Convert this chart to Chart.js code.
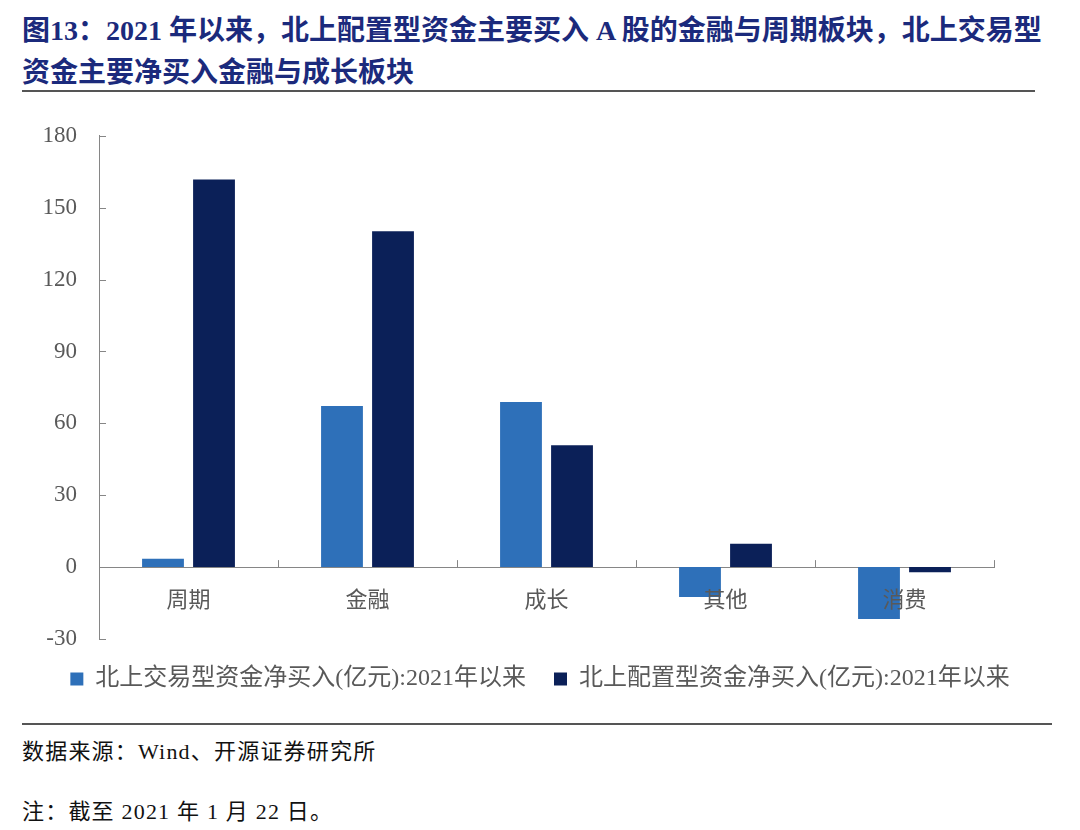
<!DOCTYPE html>
<html>
<head>
<meta charset="utf-8">
<script src="https://cdn.jsdelivr.net/npm/chart.js@4"></script>
<style>
  body { margin: 0; width: 1080px; height: 830px; background: #fff; position: relative; overflow: hidden; }
  .title { position: absolute; left: 22px; top: 10px; width: 1058px; font-family: "Liberation Serif", "Noto Sans CJK SC", serif; font-weight: bold; font-size: 28px; line-height: 42px; color: #1b2a7c; white-space: nowrap; }
  .rule { position: absolute; left: 22px; height: 2px; background: #555; }
  .note { position: absolute; left: 22px; font-family: "Liberation Serif", "Noto Sans CJK SC", serif; font-size: 22px; letter-spacing: 1.2px; color: #111; }
  #wrap { position: absolute; left: 0; top: 100px; width: 1080px; height: 601px; }
</style>
</head>
<body>
<div class="title">图13：2021 年以来，北上配置型资金主要买入 A 股的金融与周期板块，北上交易型<br>资金主要净买入金融与成长板块</div>
<div class="rule" style="top:90px;width:1013px"></div>
<div id="wrap"><canvas id="graph"></canvas></div>
<div class="rule" style="top:723px;width:1030px"></div>
<div class="note" style="top:733px">数据来源：Wind、开源证券研究所</div>
<div class="note" style="top:793px">注：截至 2021 年 1 月 22 日。</div>
<script>
var categories = ['周期', '金融', '成长', '其他', '消费'];
var tradeFlow = [3.5, 67.2, 68.9, -12.5, -21.7];
var allocFlow = [161.8, 140.2, 50.9, 9.8, -2.1];
var seriesNames = ['北上交易型资金净买入(亿元):2021年以来', '北上配置型资金净买入(亿元):2021年以来'];
var yTicks = [-30, 0, 30, 60, 90, 120, 150, 180];

var axisColor = '#868686';

// small inward tick marks like the original
var innerTicks = {
    id: 'innerTicks',
    afterDraw: function(chart){
        var ctx = chart.ctx;
        var x = chart.scales.x, y = chart.scales.y;
        var zero = y.getPixelForValue(0);
        ctx.save();
        ctx.strokeStyle = axisColor;
        ctx.lineWidth = 1;
        ctx.beginPath();
        yTicks.forEach(function(v){
            var py = Math.round(y.getPixelForValue(v)) + 0.5;
            ctx.moveTo(x.left, py);
            ctx.lineTo(x.left + 7, py);
        });
        for (var i = 1; i <= categories.length; i++) {
            var px = Math.round(x.getPixelForValue(i - 0.5)) + 0.5;
            ctx.moveTo(px, zero);
            ctx.lineTo(px, zero - 7);
        }
        ctx.stroke();
        ctx.restore();
    }
};

new Chart(document.getElementById('graph'), {
    type: 'bar',
    data: {
        labels: categories,
        datasets: [{
            label: seriesNames[0],
            data: tradeFlow,
            backgroundColor: '#2e70b9',
            categoryPercentage: 0.57,
            barPercentage: 0.82
        }, {
            label: seriesNames[1],
            data: allocFlow,
            backgroundColor: '#0b2058',
            categoryPercentage: 0.57,
            barPercentage: 0.82
        }]
    },
    plugins: [innerTicks],
    options: {
        responsive: true,
        maintainAspectRatio: false,
        animation: false,
        layout: { padding: { top: 35, right: 0, left: 0, bottom: 0 } },
        plugins: {
            tooltip: { enabled: false },
            legend: {
                position: 'bottom',
                labels: {
                    boxWidth: 13,
                    boxHeight: 13,
                    padding: 28,
                    color: '#595959',
                    font: { family: '"Liberation Serif", "Noto Sans CJK SC"', size: 24 }
                }
            }
        },
        scales: {
            x: {
                position: { y: 0 },
                grid: { display: false, drawTicks: false },
                border: { color: axisColor, width: 1 },
                ticks: {
                    z: 1,
                    padding: 18,
                    color: '#595959',
                    font: { family: '"Noto Sans CJK SC"', size: 22 }
                }
            },
            y: {
                min: -30,
                max: 180,
                afterFit: function(s){ s.width = 99; },
                afterBuildTicks: function(s){ s.ticks = yTicks.map(function(v){ return { value: v }; }); },
                grid: { display: false, drawTicks: false },
                border: { color: axisColor, width: 1 },
                ticks: {
                    padding: 22,
                    color: '#595959',
                    font: { family: '"Liberation Serif"', size: 23 }
                }
            },
            // empty right-hand spacer so the legend stays centred on the page
            spacer: {
                type: 'linear',
                position: 'right',
                afterFit: function(s){ s.width = 86; },
                grid: { display: false, drawTicks: false },
                border: { display: false },
                ticks: { display: false }
            }
        }
    }
});
</script>
</body>
</html>
